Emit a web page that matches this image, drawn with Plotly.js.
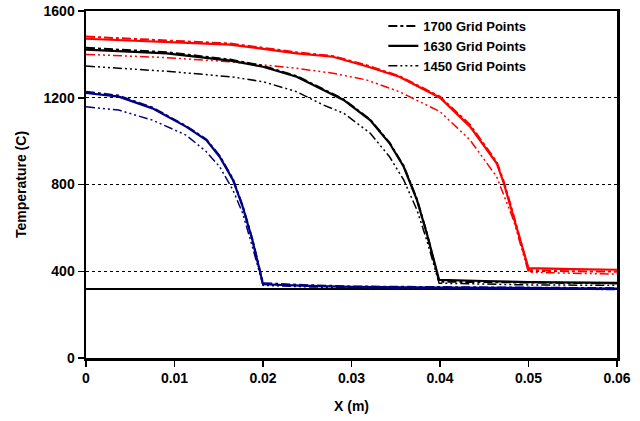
<!DOCTYPE html>
<html>
<head>
<meta charset="utf-8">
<script src="https://cdn.plot.ly/plotly-3.0.1.min.js"></script>
<style>
  html, body { margin: 0; padding: 0; background: #fff; }
  #chart { width: 640px; height: 421px; }
</style>
</head>
<body>
<div id="chart"></div>
<script>
/* Temperature profiles along X for three grid resolutions, three times each. */

// Blue group (front near x = 0.02)
const blueX    = [0, 0.0037, 0.0075, 0.0113, 0.0136, 0.0151, 0.0166, 0.0177, 0.0188, 0.0200, 0.0250, 0.0300, 0.0400, 0.0500, 0.0600];
const blue1700 = [1228, 1210, 1155, 1070, 1008, 932, 826, 702, 548, 345, 336, 330, 327, 324, 322];
const blue1630 = [1222, 1205, 1151, 1067, 1005, 928, 821, 698, 544, 340, 333, 328, 325, 322, 320];
const blue1450 = [1158, 1143, 1097, 1028, 951, 882, 775, 668, 513, 335, 328, 324, 320, 318, 316];

// Black group (front near x = 0.04)
const blackX    = [0, 0.0091, 0.0163, 0.0200, 0.0238, 0.0268, 0.0291, 0.0321, 0.0343, 0.0359, 0.0374, 0.0385, 0.0399, 0.0450, 0.0500, 0.0600];
const black1700 = [1430, 1410, 1376, 1347, 1300, 1240, 1193, 1100, 993, 885, 732, 578, 352, 350, 348, 344];
const black1630 = [1422, 1405, 1371, 1343, 1297, 1236, 1190, 1097, 990, 882, 728, 575, 360, 355, 350, 346];
const black1450 = [1346, 1322, 1297, 1274, 1228, 1167, 1129, 1037, 928, 821, 682, 544, 345, 340, 337, 335];

// Red group (front near x = 0.05)
const redX    = [0, 0.0091, 0.0163, 0.0238, 0.0279, 0.0317, 0.0354, 0.0400, 0.0434, 0.0464, 0.0472, 0.0483, 0.0500, 0.0550, 0.0600];
const red1700 = [1482, 1465, 1450, 1410, 1392, 1350, 1300, 1205, 1075, 905, 815, 660, 405, 400, 398];
const red1630 = [1472, 1455, 1445, 1405, 1389, 1345, 1297, 1200, 1067, 898, 807, 651, 414, 410, 407];
const red1450 = [1400, 1385, 1366, 1336, 1313, 1282, 1228, 1136, 1005, 836, 752, 636, 395, 390, 387];

// Initial temperature reference line
const baseX = [0, 0.06];
const baseY = [318, 318];

const legendNames = ["1700 Grid Points", "1630 Grid Points", "1450 Grid Points"];
const xTicks = [0, 0.01, 0.02, 0.03, 0.04, 0.05, 0.06];
const yTicks = [0, 400, 800, 1200, 1600];

const FONT = { family: "Liberation Sans, Arial, sans-serif", size: 14, color: "#000", weight: "bold" };
const DASH = {
  d1700: "dashdot",
  d1630: "solid",
  d1450: "9px,3px,2px,3px,2px,3px,2px,3px",
};

function curve(x, y, color, dash, width, name, inLegend) {
  return {
    x, y,
    type: "scatter",
    mode: "lines",
    line: { color, dash, width },
    name,
    showlegend: inLegend,
    hoverinfo: "skip",
  };
}

const traces = [
  curve(baseX, baseY, "#000", "solid", 2, "base", false),
  curve(blueX, blue1450, "#000080", DASH.d1450, 1.5, legendNames[2], false),
  curve(blueX, blue1700, "#000080", DASH.d1700, 2, legendNames[0], false),
  curve(blueX, blue1630, "#000080", DASH.d1630, 2.2, legendNames[1], false),
  curve(redX, red1450, "#ff0000", DASH.d1450, 1.5, legendNames[2], false),
  curve(redX, red1700, "#ff0000", DASH.d1700, 2, legendNames[0], false),
  curve(redX, red1630, "#ff0000", DASH.d1630, 2.2, legendNames[1], false),
  curve(blackX, black1700, "#000", DASH.d1700, 2, legendNames[0], true),
  curve(blackX, black1630, "#000", DASH.d1630, 2.2, legendNames[1], true),
  curve(blackX, black1450, "#000", DASH.d1450, 1.5, legendNames[2], true),
];

const layout = {
  width: 640,
  height: 421,
  margin: { l: 86, r: 23, t: 11, b: 63 },
  paper_bgcolor: "#fff",
  plot_bgcolor: "#fff",
  font: FONT,
  showlegend: true,
  legend: {
    x: 0.56, y: 1.0, xanchor: "left", yanchor: "top",
    bgcolor: "rgba(0,0,0,0)",
    font: { family: FONT.family, size: 13, color: "#000", weight: "bold" },
    tracegroupgap: 0,
  },
  xaxis: {
    range: [0, 0.06],
    tickvals: xTicks,
    ticktext: xTicks.map(String),
    ticks: "outside", ticklen: 6, tickwidth: 1.5, tickcolor: "#000",
    showline: true, linewidth: 2.5, linecolor: "#000", mirror: true,
    showgrid: false, zeroline: false,
    title: { text: "X (m)", font: FONT, standoff: 16 },
    tickfont: FONT,
  },
  yaxis: {
    range: [0, 1600],
    tickvals: yTicks,
    ticks: "outside", ticklen: 6, tickwidth: 1.5, tickcolor: "#000",
    showline: true, linewidth: 2.5, linecolor: "#000", mirror: true,
    showgrid: true, gridcolor: "#000", gridwidth: 1, griddash: "dot",
    zeroline: false,
    title: { text: "Temperature (C)", font: FONT, standoff: 14 },
    tickfont: FONT,
  },
};

Plotly.newPlot("chart", traces, layout, { displayModeBar: false, staticPlot: true });
</script>
</body>
</html>
